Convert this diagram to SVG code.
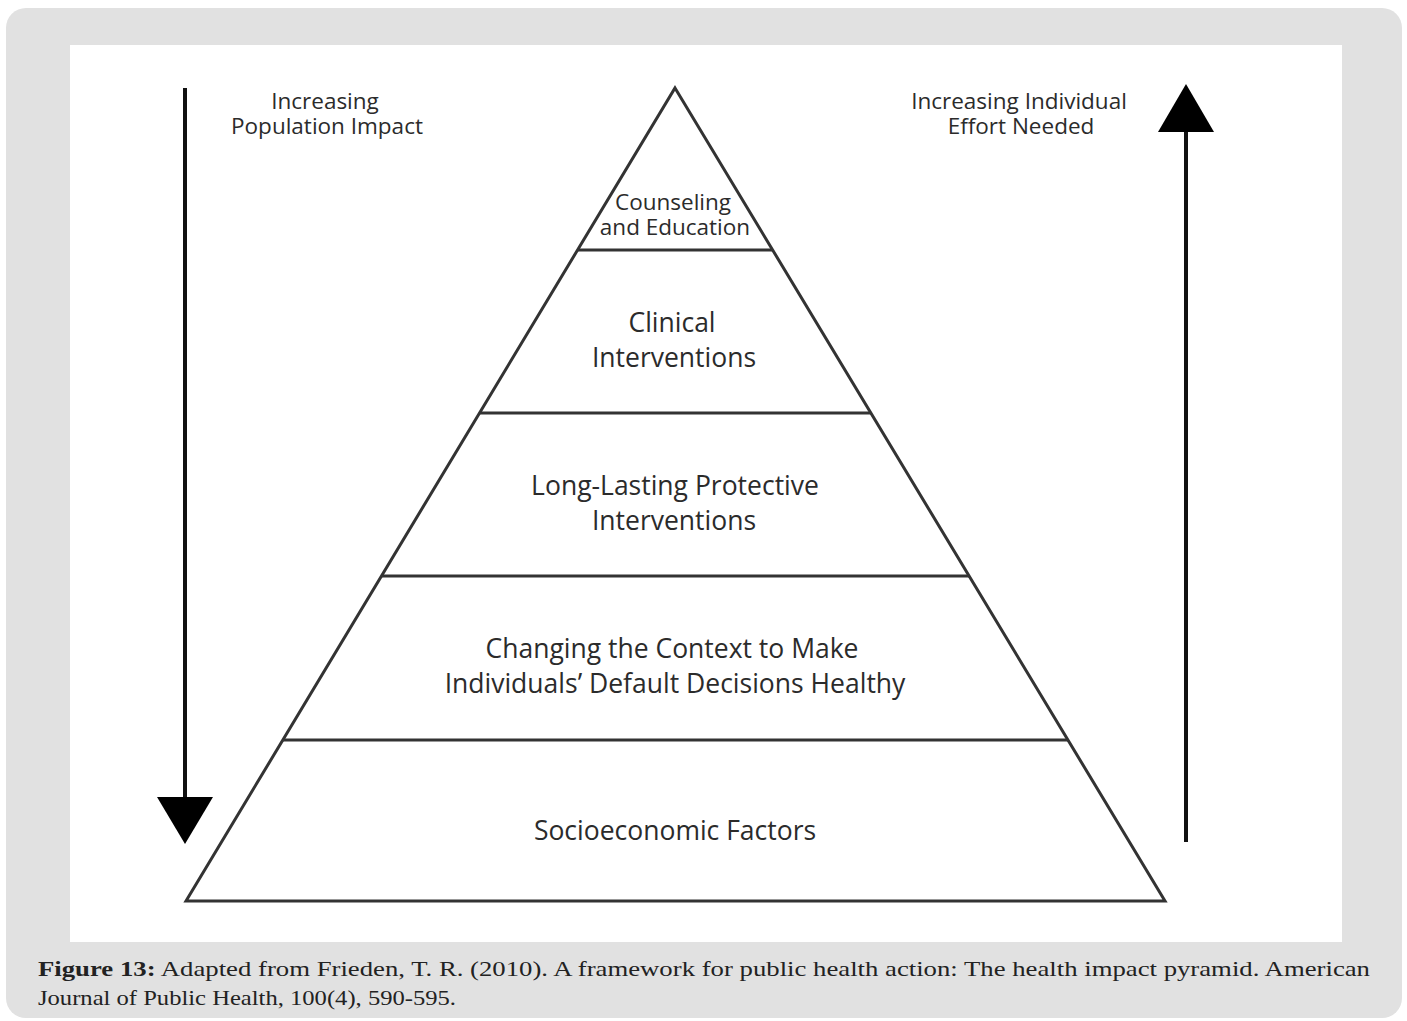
<svg xmlns="http://www.w3.org/2000/svg" width="1407" height="1021" viewBox="0 0 1407 1021">
<style>
.lbl{font-family:"Open Sans","DejaVu Sans",sans-serif;fill:#2b2b2b;text-anchor:middle;font-weight:500}
.big{font-size:26.5px}
.sm{font-size:22.5px}
.edge{stroke:#333;stroke-width:3;fill:none}
.cap{font-family:"Liberation Serif","DejaVu Serif",serif;font-size:22px;fill:#222}
</style>
<rect x="6" y="8" width="1396" height="1010" rx="20" fill="#e1e1e1"/>
<rect x="70" y="45" width="1272" height="897" fill="#ffffff"/>
<g id="connectors">
<line x1="185" y1="88" x2="185" y2="800" stroke="#111" stroke-width="4"/>
<polygon points="157,797 213,797 185,844" fill="#000"/>
<line x1="1186" y1="842" x2="1186" y2="128" stroke="#111" stroke-width="4"/>
<polygon points="1158,132 1214,132 1186,84" fill="#000"/>
</g>
<g id="pyramid">
<polygon class="edge" points="675,88 1165,901 186,901" stroke-linejoin="miter"/>
<line class="edge" x1="577" y1="250" x2="773" y2="250"/>
<line class="edge" x1="479" y1="413" x2="871" y2="413"/>
<line class="edge" x1="381" y1="576" x2="969" y2="576"/>
<line class="edge" x1="283" y1="740" x2="1068" y2="740"/>
</g>
<g id="label-left">
<text class="lbl sm" x="325" y="109">Increasing</text>
<text class="lbl sm" x="327" y="134">Population Impact</text>
</g>
<g id="label-right">
<text class="lbl sm" x="1019" y="109">Increasing Individual</text>
<text class="lbl sm" x="1021" y="134">Effort Needed</text>
</g>
<g id="node-counseling">
<text class="lbl sm" x="673" y="210">Counseling</text>
<text class="lbl sm" x="675" y="235">and Education</text>
</g>
<g id="node-clinical">
<text class="lbl big" x="672" y="332">Clinical</text>
<text class="lbl big" x="674" y="367">Interventions</text>
</g>
<g id="node-protective">
<text class="lbl big" x="675" y="495">Long-Lasting Protective</text>
<text class="lbl big" x="674" y="530">Interventions</text>
</g>
<g id="node-context">
<text class="lbl big" x="672" y="658">Changing the Context to Make</text>
<text class="lbl big" x="675" y="693">Individuals’ Default Decisions Healthy</text>
</g>
<g id="node-socio">
<text class="lbl big" x="675" y="840">Socioeconomic Factors</text>
</g>
<g id="caption">
<text class="cap" x="38" y="976" textLength="1332" lengthAdjust="spacingAndGlyphs"><tspan font-weight="bold">Figure 13:</tspan> Adapted from Frieden, T. R. (2010). A framework for public health action: The health impact pyramid. American</text>
<text class="cap" x="38" y="1005" textLength="418" lengthAdjust="spacingAndGlyphs">Journal of Public Health, 100(4), 590-595.</text>
</g>
</svg>
